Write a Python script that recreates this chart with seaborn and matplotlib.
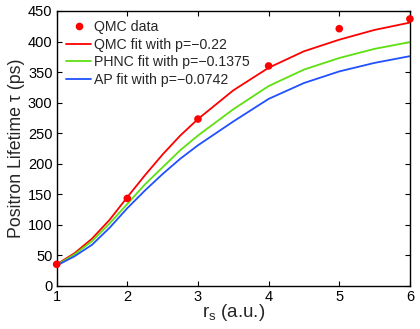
import numpy as np
import pandas as pd
import matplotlib
matplotlib.use("Agg")
import matplotlib.pyplot as plt
from matplotlib.lines import Line2D
import seaborn as sns

# --- data ---
qmc_rs = [1, 2, 3, 4, 5, 6]
qmc_tau = [35, 143, 273, 360, 421, 437]

fit_rs = [1, 1.25, 1.5, 1.75, 2, 2.25, 2.5, 2.75, 3, 3.5, 4, 4.5, 5, 5.5, 6]
qmc_fit = [35, 53, 77, 108, 145, 181, 215, 246, 273, 320, 357, 384, 403, 419, 431]
phnc_fit = [34, 51, 73, 102, 134, 166, 194, 222, 246, 289, 327, 354, 373, 388, 399]
ap_fit = [33, 48, 67, 95, 127, 156, 183, 208, 230, 269, 306, 332, 351, 365, 376]

series_labels = ["QMC fit with p=\u22120.22",
                 "PHNC fit with p=\u22120.1375",
                 "AP fit with p=\u22120.0742"]
series_colors = ["#ff0000", "#5ee010", "#2050ff"]
data_label = "QMC data"

xticks = [1, 2, 3, 4, 5, 6]
yticks = [0, 50, 100, 150, 200, 250, 300, 350, 400, 450]

sns.set_style("ticks")
plt.rcParams["font.family"] = ["Liberation Sans", "DejaVu Sans"]
plt.rcParams["mathtext.default"] = "regular"

df = pd.DataFrame({
    "rs": fit_rs * 3,
    "tau": qmc_fit + phnc_fit + ap_fit,
    "series": [series_labels[0]] * len(fit_rs) + [series_labels[1]] * len(fit_rs)
              + [series_labels[2]] * len(fit_rs),
})
dfp = pd.DataFrame({"rs": qmc_rs, "tau": qmc_tau, "series": data_label})

fig = plt.figure(figsize=(4.2, 3.29), dpi=100)
ax = fig.add_axes([0.1349, 0.1316, 0.976 - 0.1349, 0.9666 - 0.1316])

sns.lineplot(data=df, x="rs", y="tau", hue="series", palette=series_colors,
             linewidth=1.3, ax=ax, sort=False, legend=False)
sns.scatterplot(data=dfp, x="rs", y="tau", color="#ff0000",
                s=30, edgecolor="none", ax=ax, zorder=5, clip_on=False,
                legend=False)

ax.set_xlim(1, 6)
ax.set_ylim(0, 450)
ax.set_xticks(xticks)
ax.set_yticks(yticks)
ax.tick_params(direction="in", top=True, right=True, length=3.5, width=0.8,
               labelsize=10.5, colors="black", pad=3)
for sp in ax.spines.values():
    sp.set_visible(True)
    sp.set_linewidth(1.0)
    sp.set_color("black")

ax.set_xlabel("r$_{s}$ (a.u.)", fontsize=13.5, labelpad=-1)
ax.set_ylabel("Positron Lifetime \u03c4 (ps)", fontsize=12.8, labelpad=2)

handles = [Line2D([], [], color="#ff0000", marker="o", markersize=5.5,
                  markeredgewidth=0, linestyle="none")]
handles += [Line2D([], [], color=c, linewidth=1.3) for c in series_colors]
labels = [data_label] + series_labels
ax.legend(handles, labels, loc="upper left", frameon=False, fontsize=10.2,
          handlelength=1.8, handletextpad=0.2, borderaxespad=0.35,
          labelspacing=0.25, borderpad=0.3)

fig.savefig("out.png", dpi=100)
